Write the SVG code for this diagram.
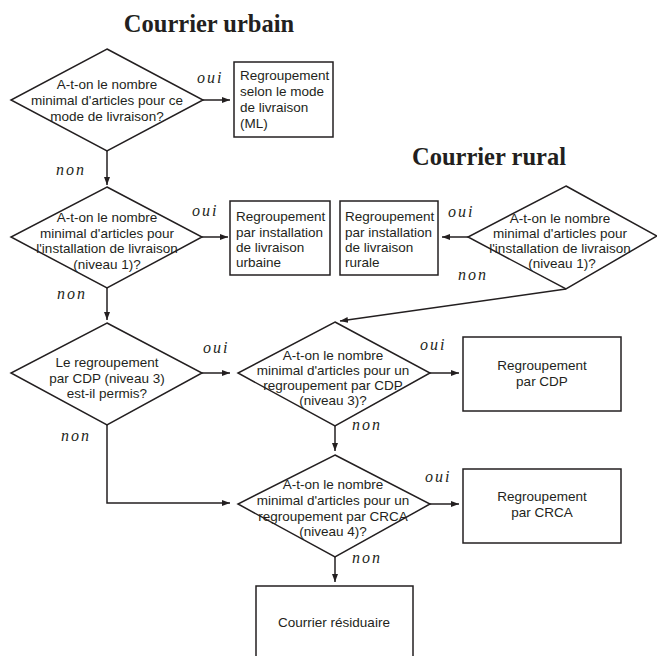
<svg xmlns="http://www.w3.org/2000/svg" width="657" height="656" viewBox="0 0 657 656">
<style>
.shape{fill:#fff;stroke:#231f20;stroke-width:1.5}
.t{font-family:"Liberation Sans",Arial,sans-serif;font-size:13.5px;fill:#231f20}
.c{text-anchor:middle}
.title{font-family:"Liberation Serif","Times New Roman",serif;font-weight:bold;font-size:24.5px;fill:#231f20;text-anchor:middle}
.lab{font-family:"Liberation Serif","Times New Roman",serif;font-style:italic;font-size:16px;letter-spacing:2px;fill:#231f20}
.conn{fill:none;stroke:#231f20;stroke-width:1.5}
</style>
<defs>
<marker id="ah" markerUnits="userSpaceOnUse" markerWidth="9" markerHeight="7" refX="8" refY="3" orient="auto">
<path d="M0,0 L8,3 L0,6 z" fill="#231f20"/>
</marker>
</defs>
<rect width="657" height="656" fill="#fff"/>
<text class="title" x="209" y="32">Courrier urbain</text>
<text class="title" x="489" y="165">Courrier rural</text>

<g id="connectors">
<line class="conn" x1="203" y1="100" x2="230" y2="100" marker-end="url(#ah)"/>
<line class="conn" x1="107" y1="151" x2="107" y2="185" marker-end="url(#ah)"/>
<line class="conn" x1="202" y1="237" x2="228" y2="237" marker-end="url(#ah)"/>
<line class="conn" x1="468" y1="237" x2="442" y2="237" marker-end="url(#ah)"/>
<line class="conn" x1="107" y1="288" x2="107" y2="320" marker-end="url(#ah)"/>
<line class="conn" x1="566" y1="289" x2="340" y2="321" marker-end="url(#ah)"/>
<line class="conn" x1="202" y1="373" x2="230" y2="373" marker-end="url(#ah)"/>
<line class="conn" x1="430" y1="373" x2="459" y2="373" marker-end="url(#ah)"/>
<line class="conn" x1="335" y1="426" x2="335" y2="451" marker-end="url(#ah)"/>
<polyline class="conn" points="107,425 107,503 230,503" marker-end="url(#ah)"/>
<line class="conn" x1="430" y1="504" x2="459" y2="504" marker-end="url(#ah)"/>
<line class="conn" x1="335" y1="557" x2="335" y2="582" marker-end="url(#ah)"/>
<text class="lab" x="197" y="83">oui</text>
<text class="lab" x="56" y="175">non</text>
<text class="lab" x="192" y="216">oui</text>
<text class="lab" x="57" y="299">non</text>
<text class="lab" x="448" y="217">oui</text>
<text class="lab" x="458" y="280">non</text>
<text class="lab" x="203" y="353">oui</text>
<text class="lab" x="61" y="441">non</text>
<text class="lab" x="420" y="350">oui</text>
<text class="lab" x="352" y="430">non</text>
<text class="lab" x="425" y="482">oui</text>
<text class="lab" x="352" y="563">non</text>
</g>

<g id="d1">
<polygon class="shape" points="107,49 203,100 107,151 11,100"/>
<text class="t c" x="107" y="89">A-t-on le nombre</text>
<text class="t c" x="107" y="105">minimal d'articles pour ce</text>
<text class="t c" x="107" y="121">mode de livraison?</text>
</g>
<g id="b1">
<rect class="shape" x="234" y="62" width="99" height="75"/>
<text class="t" x="240" y="80">Regroupement</text>
<text class="t" x="240" y="96">selon le mode</text>
<text class="t" x="240" y="112">de livraison</text>
<text class="t" x="240" y="128">(ML)</text>
</g>
<g id="d2">
<polygon class="shape" points="107,187 202,237 107,288 11,237"/>
<text class="t c" x="107" y="222">A-t-on le nombre</text>
<text class="t c" x="107" y="238">minimal d'articles pour</text>
<text class="t c" x="107" y="253">l'installation de livraison</text>
<text class="t c" x="107" y="269">(niveau 1)?</text>
</g>
<g id="b2">
<rect class="shape" x="230" y="201" width="100" height="74"/>
<text class="t" x="236" y="221">Regroupement</text>
<text class="t" x="236" y="237">par installation</text>
<text class="t" x="236" y="252">de livraison</text>
<text class="t" x="236" y="267">urbaine</text>
</g>
<g id="b3">
<rect class="shape" x="340" y="201" width="98" height="74"/>
<text class="t" x="345" y="221">Regroupement</text>
<text class="t" x="345" y="237">par installation</text>
<text class="t" x="345" y="252">de livraison</text>
<text class="t" x="345" y="267">rurale</text>
</g>
<g id="d_rural">
<polygon class="shape" points="566,186 657,236 566,289 468,237"/>
<text class="t c" x="560" y="223">A-t-on le nombre</text>
<text class="t c" x="560" y="238">minimal d'articles pour</text>
<text class="t c" x="560" y="253">l'installation de livraison</text>
<text class="t c" x="562" y="268">(niveau 1)?</text>
</g>
<g id="d3">
<polygon class="shape" points="107,323 202,373 107,425 11,373"/>
<text class="t c" x="107" y="367">Le regroupement</text>
<text class="t c" x="107" y="383">par CDP (niveau 3)</text>
<text class="t c" x="107" y="398">est-il permis?</text>
</g>
<g id="d4">
<polygon class="shape" points="335,322 430,373 335,426 238,373"/>
<text class="t c" x="333" y="360">A-t-on le nombre</text>
<text class="t c" x="333" y="375">minimal d'articles pour un</text>
<text class="t c" x="333" y="390">regroupement par CDP</text>
<text class="t c" x="333" y="405">(niveau 3)?</text>
</g>
<g id="b_cdp">
<rect class="shape" x="463" y="337" width="158" height="74"/>
<text class="t c" x="542" y="370">Regroupement</text>
<text class="t c" x="542" y="386">par CDP</text>
</g>
<g id="d5">
<polygon class="shape" points="335,455 430,504 335,557 238,504"/>
<text class="t c" x="333" y="489">A-t-on le nombre</text>
<text class="t c" x="333" y="505">minimal d'articles pour un</text>
<text class="t c" x="333" y="521">regroupement par CRCA</text>
<text class="t c" x="333" y="536">(niveau 4)?</text>
</g>
<g id="b_crca">
<rect class="shape" x="463" y="469" width="158" height="74"/>
<text class="t c" x="542" y="501">Regroupement</text>
<text class="t c" x="542" y="517">par CRCA</text>
</g>
<g id="b_res">
<rect class="shape" x="256" y="586" width="157" height="80"/>
<text class="t c" x="334" y="627">Courrier résiduaire</text>
</g>
</svg>
